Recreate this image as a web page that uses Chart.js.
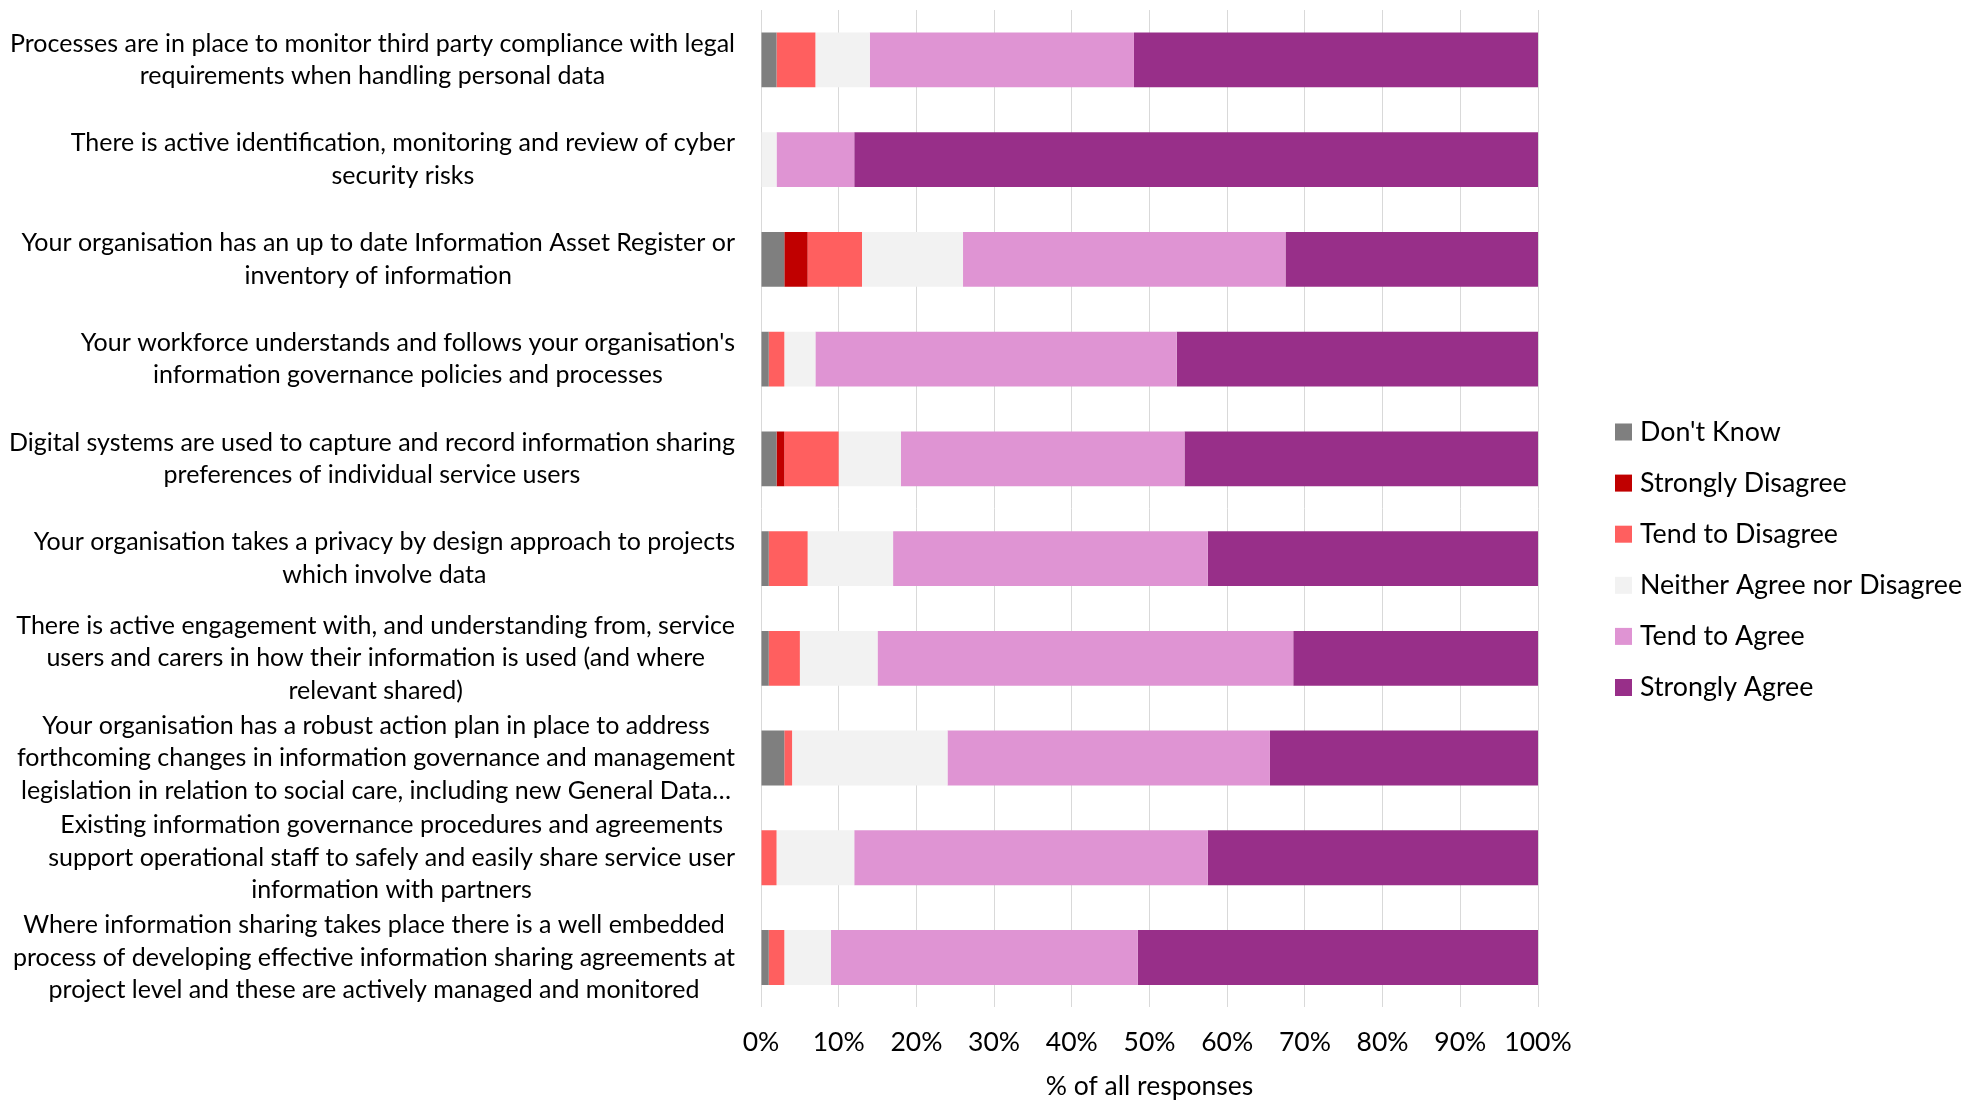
<!DOCTYPE html>
<html>
<head>
<meta charset="utf-8">
<script src="https://cdn.jsdelivr.net/npm/chart.js@4.4.1/dist/chart.umd.min.js"></script>
<style>
  html, body { margin: 0; padding: 0; background: #fff; }
  #wrap { width: 1966px; height: 1102px; }
</style>
</head>
<body>
<div id="wrap"><canvas id="survey"></canvas></div>
<script>
// statements, one entry per bar, split into the lines they are printed on
const categories = [
    ["Processes are in place to monitor third party compliance with legal", "requirements when handling personal data"],
    ["There is active identification, monitoring and review of cyber", "security risks"],
    ["Your organisation has an up to date Information Asset Register or", "inventory of information"],
    ["Your workforce understands and follows your organisation's", "information governance policies and processes"],
    ["Digital systems are used to capture and record information sharing", "preferences of individual service users"],
    ["Your organisation takes a privacy by design approach to projects", "which involve data"],
    ["There is active engagement with, and understanding from, service", "users and carers in how their information is used (and where", "relevant shared)"],
    ["Your organisation has a robust action plan in place to address", "forthcoming changes in information governance and management", "legislation in relation to social care, including new General Data\u2026"],
    ["Existing information governance procedures and agreements", "support operational staff to safely and easily share service user", "information with partners"],
    ["Where information sharing takes place there is a well embedded", "process of developing effective information sharing agreements at", "project level and these are actively managed and monitored"]
];

// % of all responses per answer
const dontKnow         = [2, 0, 3, 1, 2, 1, 1, 3, 0, 1];
const stronglyDisagree = [0, 0, 3, 0, 1, 0, 0, 0, 0, 0];
const tendDisagree     = [5, 0, 7, 2, 7, 5, 4, 1, 2, 2];
const neither          = [7, 2, 13, 4, 8, 11, 10, 20, 10, 6];
const tendAgree        = [34, 10, 41.5, 46.5, 36.5, 40.5, 53.5, 41.5, 45.5, 39.5];
const stronglyAgree    = [52, 88, 32.5, 46.5, 45.5, 42.5, 31.5, 34.5, 42.5, 51.5];

const xTicks = [0, 10, 20, 30, 40, 50, 60, 70, 80, 90, 100];

const FONT = 'Lato, "Open Sans", sans-serif';

// statement text: each block is right aligned, its lines centred on each other
const catLabels = {
    id: 'catLabels',
    afterDraw(chart) {
        const ctx = chart.ctx;
        const y = chart.scales.y;
        const lineH = 32.6;
        ctx.save();
        ctx.font = '25px ' + FONT;
        ctx.fillStyle = '#000';
        ctx.textAlign = 'center';
        ctx.textBaseline = 'middle';
        const right = y.right - 26;
        categories.forEach((lines, i) => {
            const w = Math.max(...lines.map(l => ctx.measureText(l).width));
            const cx = right - w / 2;
            const cy = y.getPixelForTick(i);
            lines.forEach((l, j) => {
                ctx.fillText(l, cx, cy + (j - (lines.length - 1) / 2) * lineH);
            });
        });
        ctx.restore();
    }
};

// legend column on the right
const sideLegend = {
    id: 'sideLegend',
    afterDraw(chart) {
        const ctx = chart.ctx;
        const x0 = chart.chartArea.right + 77;
        const y0 = 432;
        const step = 51.1;
        const box = 17;
        ctx.save();
        ctx.font = '26.8px ' + FONT;
        ctx.textAlign = 'left';
        ctx.textBaseline = 'middle';
        chart.data.datasets.forEach((ds, i) => {
            const cy = y0 + i * step;
            ctx.fillStyle = ds.backgroundColor;
            ctx.fillRect(x0, cy - box / 2, box, box);
            ctx.fillStyle = '#000';
            ctx.fillText(ds.label, x0 + box + 8, cy);
        });
        ctx.restore();
    }
};

new Chart(document.getElementById('survey'), {
    type: 'bar',
    data: {
        labels: categories.map(c => c.join(' ')),
        datasets: [
            { label: "Don't Know", data: dontKnow, backgroundColor: '#7f7f7f' },
            { label: 'Strongly Disagree', data: stronglyDisagree, backgroundColor: '#c00000' },
            { label: 'Tend to Disagree', data: tendDisagree, backgroundColor: '#ff5f5f' },
            { label: 'Neither Agree nor Disagree', data: neither, backgroundColor: '#f2f2f2' },
            { label: 'Tend to Agree', data: tendAgree, backgroundColor: '#df94d3' },
            { label: 'Strongly Agree', data: stronglyAgree, backgroundColor: '#982f89' }
        ]
    },
    options: {
        indexAxis: 'y',
        responsive: true,
        maintainAspectRatio: false,
        animation: false,
        datasets: {
            bar: { barPercentage: 0.55, categoryPercentage: 1, borderWidth: 0 }
        },
        layout: { padding: { top: 10, right: 428, bottom: 0, left: 0 } },
        plugins: {
            legend: { display: false },
            tooltip: { enabled: false }
        },
        scales: {
            x: {
                stacked: true,
                min: 0,
                max: 100,
                afterBuildTicks: scale => { scale.ticks = xTicks.map(v => ({ value: v })); },
                ticks: {
                    padding: 19,
                    color: '#000',
                    font: { family: FONT, size: 26.5 },
                    callback: v => v + '%'
                },
                grid: { color: '#d9d9d9', lineWidth: 1, drawTicks: false },
                border: { display: false },
                title: {
                    display: true,
                    text: '% of all responses',
                    color: '#000',
                    font: { family: FONT, size: 26.5 },
                    padding: { top: -7, bottom: 0 }
                }
            },
            y: {
                stacked: true,
                ticks: { display: false },
                grid: { display: false },
                border: { display: false },
                afterFit: scale => { scale.width = 761; }
            }
        }
    },
    plugins: [catLabels, sideLegend]
});
</script>
</body>
</html>
